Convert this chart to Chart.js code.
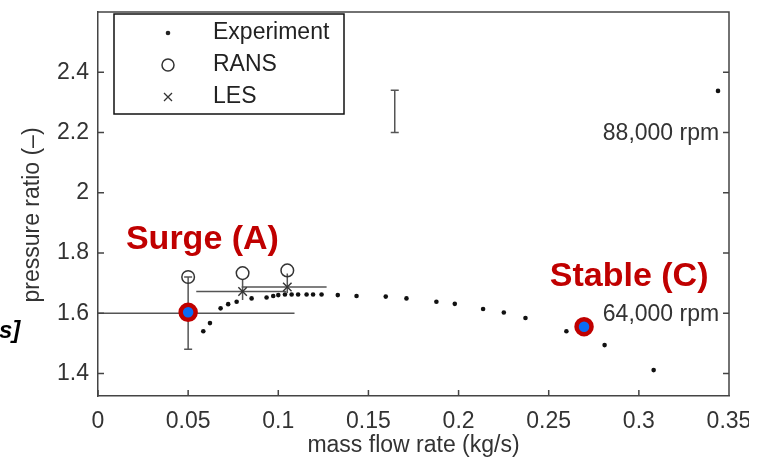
<!DOCTYPE html>
<html>
<head>
<meta charset="utf-8">
<script src="https://cdn.jsdelivr.net/npm/chart.js@4/dist/chart.umd.min.js"></script>
<style>
  html, body { margin: 0; padding: 0; background: #fff; }
</style>
</head>
<body>
<canvas id="chart" width="771" height="462"></canvas>
<script>
// ─── data ───────────────────────────────────────────────────────────────
var expX = [0.0584, 0.0621, 0.0680, 0.0722, 0.0769, 0.0852, 0.0935, 0.0972, 0.1000, 0.1037,
            0.1074, 0.1110, 0.1157, 0.1193, 0.1240, 0.1330, 0.1434, 0.1596, 0.1711, 0.1877,
            0.1979, 0.2136, 0.2251, 0.2371, 0.2598, 0.2810, 0.3082, 0.3439];
var expY = [1.540, 1.567, 1.616, 1.630, 1.638, 1.649, 1.652, 1.657, 1.660, 1.662,
            1.662, 1.662, 1.662, 1.662, 1.662, 1.660, 1.657, 1.655, 1.649, 1.638,
            1.631, 1.614, 1.602, 1.584, 1.540, 1.494, 1.411, 2.338];

var ransX = [0.05, 0.0802, 0.105];
var ransY = [1.720, 1.733, 1.742];

var lesX = [0.0802, 0.105];
var lesY = [1.672, 1.687];

// highlighted operating points: Surge (A), Stable (C)
var markX = [0.05, 0.2696];
var markY = [1.603, 1.555];

// error bars (null = no bar in that direction)
var errX     = [0.05,  0.0802, 0.105,  0.1646];
var errY     = [1.60,  1.672,  1.687,  2.27];
var errYLow  = [1.48,  1.644,  1.666,  2.20];
var errYHigh = [1.72,  1.712,  1.732,  2.34];
var errXLow  = [0,     0.0545, 0.0797, null];
var errXHigh = [0.109, 0.1045, 0.1268, null];
var errCaps  = [true,  false,  false,  true];

var xTicks = [0, 0.05, 0.1, 0.15, 0.2, 0.25, 0.3, 0.35];
var yTicks = [1.4, 1.6, 1.8, 2, 2.2, 2.4];

var FONT = '"Liberation Sans", Arial, Helvetica, sans-serif';
var AXIS = '#444';

function pts(xs, ys) { return xs.map(function(x, i) { return { x: x, y: ys[i] }; }); }

// ─── custom drawing: error bars, box, inward ticks, legend, labels ─────
var figPlugin = {
  id: 'fig',
  beforeDatasetsDraw: function(chart) {
    var ctx = chart.ctx, xs = chart.scales.x, ys = chart.scales.y;
    ctx.save();
    ctx.strokeStyle = '#555';
    ctx.lineWidth = 1.5;
    errX.forEach(function(x, i) {
      var px = xs.getPixelForValue(x), py = ys.getPixelForValue(errY[i]);
      var y1 = ys.getPixelForValue(errYLow[i]), y2 = ys.getPixelForValue(errYHigh[i]);
      ctx.beginPath();
      ctx.moveTo(px, y1); ctx.lineTo(px, y2);
      if (errCaps[i]) {
        ctx.moveTo(px - 4, y1); ctx.lineTo(px + 4, y1);
        ctx.moveTo(px - 4, y2); ctx.lineTo(px + 4, y2);
      }
      if (errXLow[i] !== null) {
        ctx.moveTo(xs.getPixelForValue(errXLow[i]), py);
        ctx.lineTo(xs.getPixelForValue(errXHigh[i]), py);
      }
      ctx.stroke();
    });
    ctx.restore();
  },
  afterDraw: function(chart) {
    var ctx = chart.ctx, a = chart.chartArea, xs = chart.scales.x, ys = chart.scales.y;
    ctx.save();

    // top + right edges of the box, inward ticks
    ctx.strokeStyle = AXIS;
    ctx.lineWidth = 1.5;
    ctx.beginPath();
    ctx.moveTo(a.left, a.top); ctx.lineTo(a.right, a.top); ctx.lineTo(a.right, a.bottom);
    yTicks.forEach(function(v) {
      var p = ys.getPixelForValue(v);
      ctx.moveTo(a.left, p); ctx.lineTo(a.left + 6, p);
      ctx.moveTo(a.right, p); ctx.lineTo(a.right - 6, p);
    });
    xTicks.forEach(function(v) {
      var p = xs.getPixelForValue(v);
      ctx.moveTo(p, a.bottom); ctx.lineTo(p, a.bottom - 6);
    });
    ctx.stroke();

    // legend
    var lx = 114, ly = 14;
    ctx.fillStyle = '#fff';
    ctx.fillRect(lx, ly, 230, 100);
    ctx.strokeStyle = '#111';
    ctx.lineWidth = 1.5;
    ctx.strokeRect(lx, ly, 230, 100);
    ctx.font = '23px ' + FONT;
    ctx.fillStyle = '#222';
    ctx.textBaseline = 'middle';
    ctx.textAlign = 'left';
    ctx.fillText('Experiment', 213, 33);
    ctx.fillText('RANS', 213, 65);
    ctx.fillText('LES', 213, 97);
    ctx.beginPath(); ctx.arc(168, 33, 2.3, 0, Math.PI * 2); ctx.fill();
    ctx.beginPath(); ctx.arc(168, 65, 6, 0, Math.PI * 2);
    ctx.strokeStyle = '#333'; ctx.lineWidth = 1.5; ctx.stroke();
    ctx.beginPath();
    ctx.moveTo(164, 93); ctx.lineTo(172, 101);
    ctx.moveTo(172, 93); ctx.lineTo(164, 101);
    ctx.lineWidth = 1.3; ctx.stroke();

    // rpm labels
    ctx.fillStyle = '#333';
    ctx.font = '23px ' + FONT;
    ctx.fillText('88,000 rpm', xs.getPixelForValue(0.28), ys.getPixelForValue(2.196));
    ctx.fillText('64,000 rpm', xs.getPixelForValue(0.28), ys.getPixelForValue(1.596));

    // operating point labels
    ctx.fillStyle = '#c00000';
    ctx.font = 'bold 34px ' + FONT;
    ctx.fillText('Surge (A)', xs.getPixelForValue(0.0155), ys.getPixelForValue(1.845));
    ctx.fillText('Stable (C)', xs.getPixelForValue(0.2506), ys.getPixelForValue(1.72));

    // y axis title
    ctx.save();
    ctx.translate(33, 215);
    ctx.rotate(-Math.PI / 2);
    ctx.textAlign = 'center';
    ctx.fillStyle = '#333';
    ctx.font = '23px ' + FONT;
    ctx.fillText('pressure ratio (\u2013)', 0, 0);
    ctx.restore();

    // leftover from neighbouring slide text
    ctx.fillStyle = '#000';
    ctx.font = 'italic bold 24px ' + FONT;
    ctx.fillText('s]', -1, 331);

    // figure was cropped at the right edge
    ctx.fillStyle = '#fff';
    ctx.fillRect(749, 395, 22, 67);
    ctx.restore();
  }
};

new Chart(document.getElementById('chart'), {
  type: 'scatter',
  data: {
    datasets: [
      { label: 'Operating points', data: pts(markX, markY), pointRadius: 7.5, pointHoverRadius: 7.5,
        pointBackgroundColor: '#0a6cf5', pointBorderColor: '#c00000', pointBorderWidth: 4.5 },
      { label: 'LES', data: pts(lesX, lesY), pointStyle: 'crossRot', pointRadius: 6,
        pointBorderColor: '#333', pointBorderWidth: 1.4 },
      { label: 'RANS', data: pts(ransX, ransY), pointStyle: 'circle', pointRadius: 6.3,
        pointBackgroundColor: 'rgba(0,0,0,0)', pointBorderColor: '#333', pointBorderWidth: 1.5 },
      { label: 'Experiment', data: pts(expX, expY), pointRadius: 2.3,
        pointBackgroundColor: '#111', pointBorderColor: '#111', pointBorderWidth: 0 }
    ]
  },
  options: {
    responsive: false,
    animation: false,
    layout: { padding: { top: 6, right: 42, left: 0, bottom: 0 } },
    plugins: { legend: { display: false }, tooltip: { enabled: false } },
    scales: {
      x: {
        type: 'linear', min: 0, max: 0.35,
        afterBuildTicks: function(s) { s.ticks = xTicks.map(function(v) { return { value: v }; }); },
        afterFit: function(s) { s.height = 66; s.paddingLeft = 0; s.paddingRight = 0; },
        grid: { display: false, drawTicks: false },
        border: { display: true, color: AXIS, width: 1.5 },
        ticks: { padding: 12, color: '#333', font: { family: FONT, size: 23 }, maxRotation: 0,
                 callback: function(v) { return String(+v.toFixed(2)); } },
        title: { display: true, text: 'mass flow rate (kg/s)', color: '#333',
                 font: { family: FONT, size: 23 }, padding: { top: 0, bottom: 3 } }
      },
      y: {
        type: 'linear', min: 1.325, max: 2.6,
        afterBuildTicks: function(s) { s.ticks = yTicks.map(function(v) { return { value: v }; }); },
        afterFit: function(s) { s.width = 98; s.paddingTop = 0; s.paddingBottom = 0; },
        grid: { display: false, drawTicks: false },
        border: { display: true, color: AXIS, width: 1.5 },
        ticks: { padding: 9, color: '#333', font: { family: FONT, size: 23 },
                 callback: function(v) { return String(+v.toFixed(1)); } }
      }
    }
  },
  plugins: [figPlugin]
});
</script>
</body>
</html>
